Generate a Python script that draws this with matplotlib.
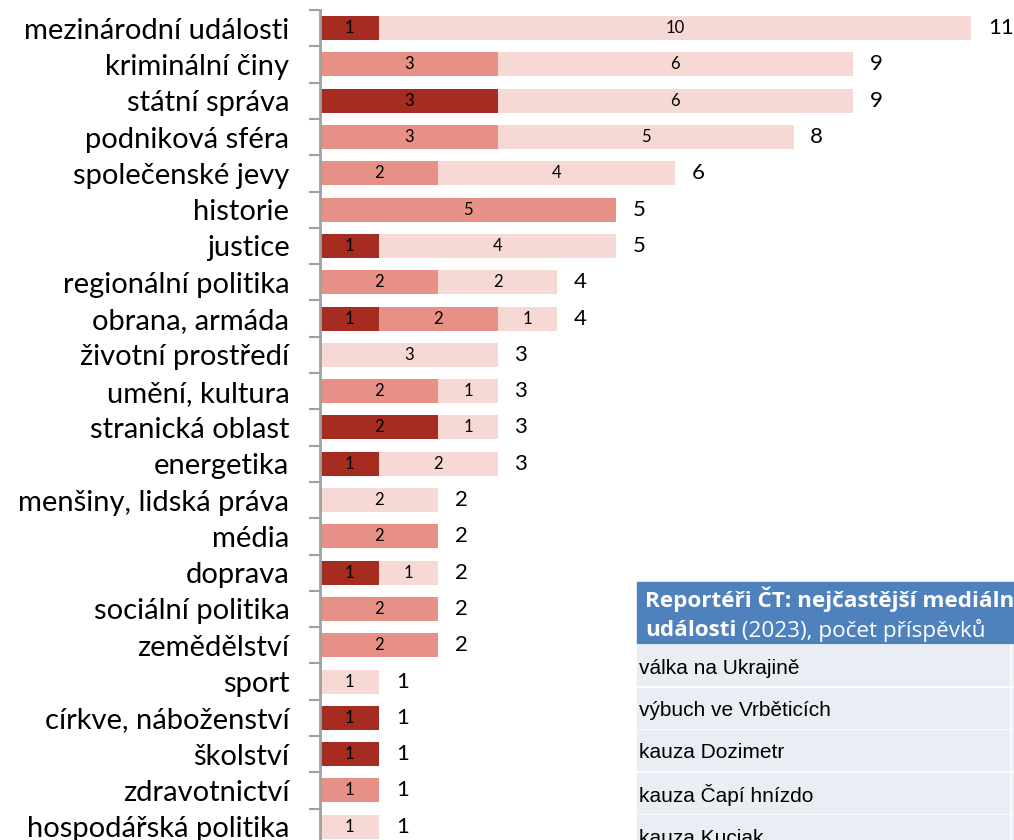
import matplotlib.pyplot as plt
import numpy as np

kategorie = ["mezinárodní události", "kriminální činy", "státní správa", "podniková sféra",
             "společenské jevy", "historie", "justice", "regionální politika", "obrana, armáda",
             "životní prostředí", "umění, kultura", "stranická oblast", "energetika",
             "menšiny, lidská práva", "média", "doprava", "sociální politika", "zemědělství",
             "sport", "církve, náboženství", "školství", "zdravotnictví", "hospodářská politika"]
tmava = [1, 0, 3, 0, 0, 0, 1, 0, 1, 0, 0, 2, 1, 0, 0, 1, 0, 0, 0, 1, 1, 0, 0]
stredni = [0, 3, 0, 3, 2, 5, 0, 2, 2, 0, 2, 0, 0, 0, 2, 0, 2, 2, 0, 0, 0, 1, 0]
svetla = [10, 6, 6, 5, 4, 0, 4, 2, 1, 3, 1, 1, 2, 2, 0, 1, 0, 0, 1, 0, 0, 0, 1]

tabulka_radky = ["válka na Ukrajině", "výbuch ve Vrběticích", "kauza Dozimetr",
                 "kauza Čapí hnízdo", "kauza Kuciak"]

barvy = ["#A62B20", "#E69086", "#F6D8D4"]
plt.rcParams['font.family'] = ['Lato', 'DejaVu Sans']

W, H = 1014, 840
fig = plt.figure(figsize=(W / 100, H / 100), dpi=100)
# osy: horni hranice na y=10 px, radky po 36.3 px, spina na x=320
radek = 36.3
n = len(kategorie)
top = 10
bottom = top + n * radek
ax = fig.add_axes([320 / W, 1 - bottom / H, (W - 320) / W, (bottom - top) / H])

y = np.arange(n)
t = np.array(tmava)
s = np.array(stredni)
l = np.array(svetla)
vyska = 0.66
ax.barh(y, t, height=vyska, color=barvy[0])
ax.barh(y, s, left=t, height=vyska, color=barvy[1])
ax.barh(y, l, left=t + s, height=vyska, color=barvy[2])

for i in range(n):
    zac = 0
    for hod in (t[i], s[i], l[i]):
        if hod > 0:
            ax.text(zac + hod / 2, i, str(hod), ha='center', va='center', fontsize=12, color='black')
        zac += hod
    ax.text(zac + 0.28, i, str(zac), ha='left', va='center', fontsize=16, color='black')

ax.set_ylim(n - 0.5, -0.5)
ax.set_xlim(0, (W - 320) / 59.2)
ax.set_yticks(np.arange(n + 1) - 0.5)
ax.set_yticklabels([])
ax.set_yticks(y, minor=True)
ax.set_yticklabels(kategorie, minor=True, fontsize=21, va='center_baseline')
ax.tick_params(axis='y', which='major', length=8, width=1.5, color='#A0A0A0')
ax.tick_params(axis='y', which='minor', length=0, pad=22)
ax.set_xticks([])
for sp in ['top', 'right', 'bottom']:
    ax.spines[sp].set_visible(False)
ax.spines['left'].set_color('#A0A0A0')
ax.spines['left'].set_linewidth(2)

# vlozena tabulka vpravo dole
def obdelnik(x0, y0, x1, y1, barva):
    fig.patches.append(plt.Rectangle((x0 / W, 1 - y1 / H), (x1 - x0) / W, (y1 - y0) / H,
                                     transform=fig.transFigure, color=barva, zorder=5))

obdelnik(637, 582, W + 5, 643, "#4F81BD")
for k, txt in enumerate(tabulka_radky):
    y0 = 645 + k * 42.5
    obdelnik(637, y0, 1009, y0 + 40, "#E9EDF4")
    obdelnik(1012, y0, W + 5, y0 + 40, "#E9EDF4")
    fig.text(639 / W, 1 - (y0 + 23) / H, txt, fontsize=15, family='Liberation Sans',
             va='center', ha='left', zorder=6)

fig.text(645 / W, 1 - 599 / H, "Reportéři ČT: nejčastější mediální", fontsize=16.2,
         weight='bold', color='white', va='center', ha='left', family='Open Sans', zorder=6)
t1 = fig.text(645 / W, 1 - 631 / H, "události", fontsize=16.2, weight='bold', color='white',
              va='center', ha='left', family='Open Sans', zorder=6)
fig.canvas.draw()
bb = t1.get_window_extent()
fig.text(bb.x1 / W, 1 - 631 / H, " (2023), počet příspěvků", fontsize=16.2, color='white',
         va='center', ha='left', family='Open Sans', zorder=6)

fig.savefig("out.png", dpi=100)
